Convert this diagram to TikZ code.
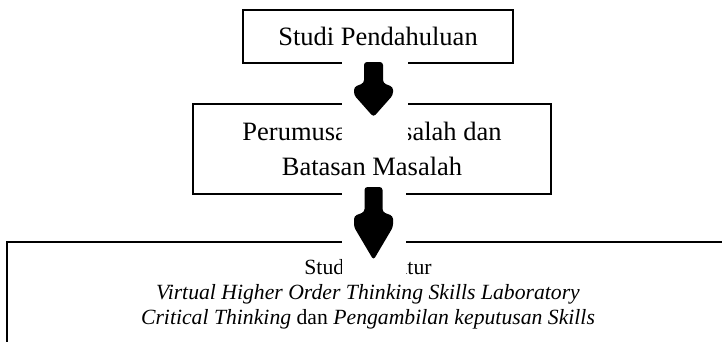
\documentclass[tikz,border=0pt]{standalone}
\usepackage{fontspec}
\setmainfont{Liberation Serif}
\begin{document}
\begin{tikzpicture}[x=1pt,y=-1pt,
  box/.style={draw=black, line width=2pt, inner sep=0pt, align=center},
  mask/.style={fill=white},
  blockarrow/.style={fill=black, rounded corners=3pt}]
\path[use as bounding box, clip] (0,0) rectangle (722,341);
\node[box, minimum width=270pt, minimum height=53pt, font=\fontsize{26.5}{32}\selectfont] (b1) at (378,36.5) {Studi Pendahuluan};
\node[box, minimum width=358pt, minimum height=90pt, font=\fontsize{26.5}{35}\selectfont] (b2) at (372,149) {Perumusan Masalah dan\\Batasan Masalah};
\node[box, minimum width=722pt, minimum height=104pt, font=\fontsize{21.7}{25}\selectfont] (b3) at (368,294) {Studi Literatur\\\textit{Virtual Higher Order Thinking Skills Laboratory}\\\textit{Critical Thinking} dan \textit{Pengambilan keputusan Skills}};
% white halos of the block arrows
\fill[mask] (342,55) rectangle (408,148);
\fill[mask] (342,185) rectangle (406,277);
% block arrows
\coordinate (a1) at (373.5,62);
\coordinate (a2) at (373.5,187);
\fill[blockarrow, shift={(a1)}] (-9.5,0) -- (9.5,0) -- (9.5,21) -- (19.5,25) -- (19.5,33) -- (0,55) -- (-19.5,33) -- (-19.5,25) -- (-9.5,21) -- cycle;
\fill[blockarrow, shift={(a2)}] (-9,0) -- (9,0) -- (9,25) -- (19.5,29) -- (19.5,40) -- (0,73) -- (-19.5,40) -- (-19.5,29) -- (-9,25) -- cycle;
\end{tikzpicture}
\end{document}
